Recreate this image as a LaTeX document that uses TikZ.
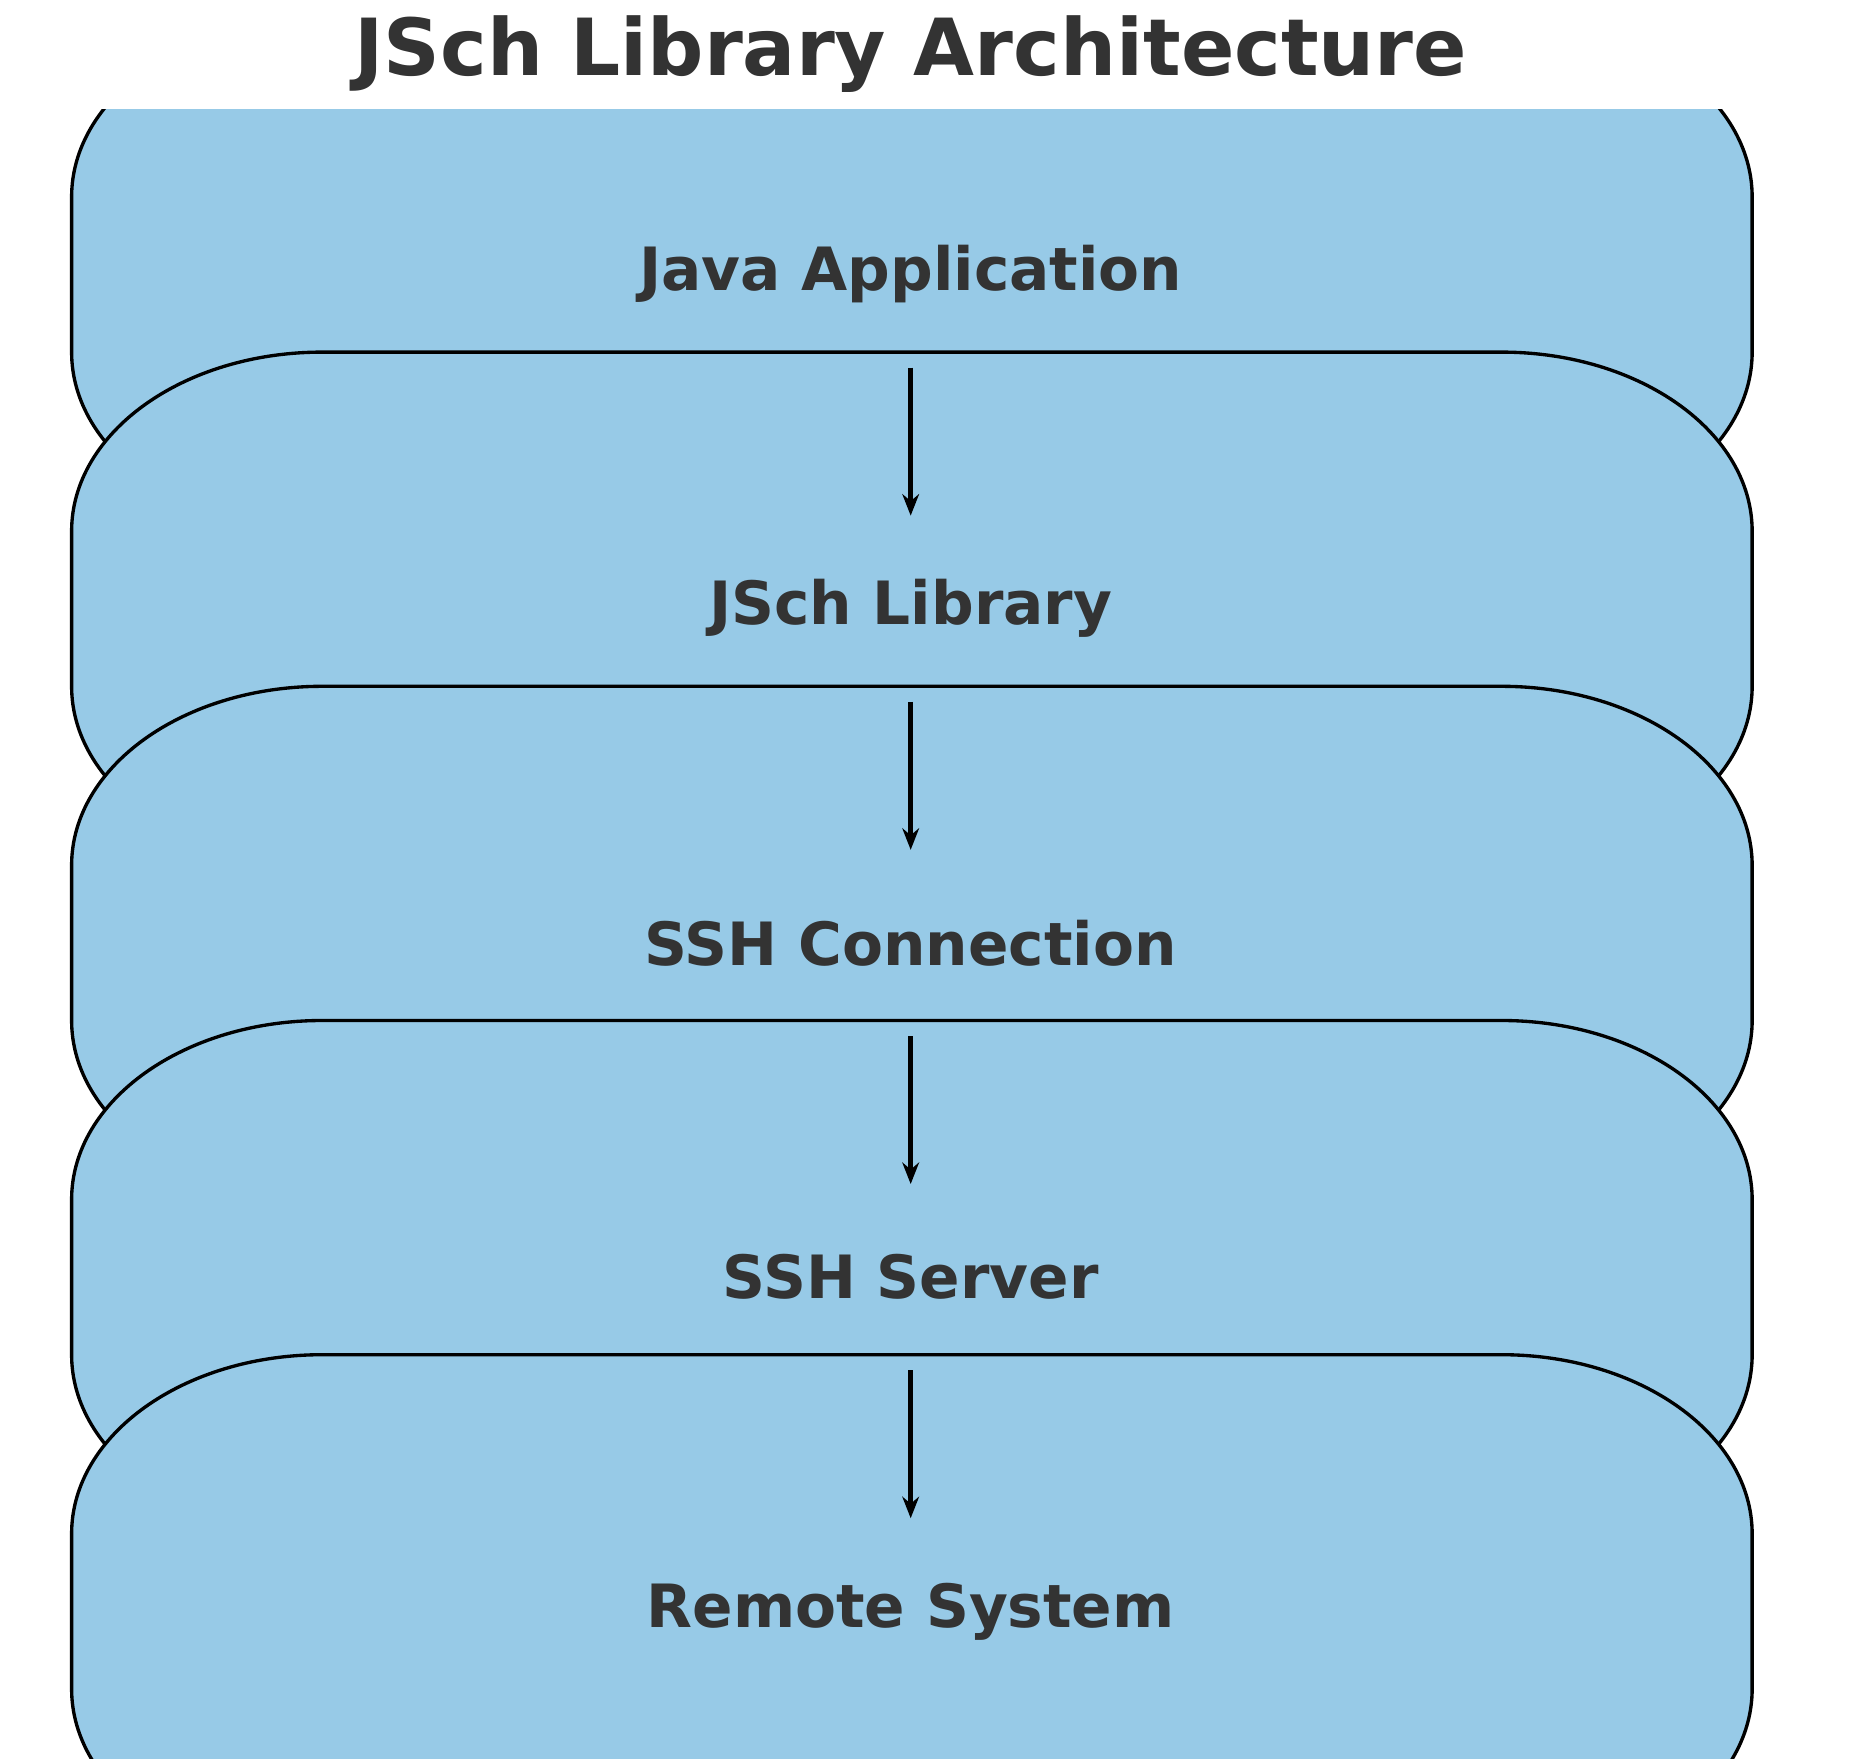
\documentclass[tikz,border=0pt]{standalone}
\usepackage{fontspec}
\setmainfont{DejaVu Sans}
\usepackage{xcolor}
\usetikzlibrary{arrows.meta}
\definecolor{layerblue}{HTML}{97CAE7}
\definecolor{labelgray}{HTML}{333333}

\tikzset{
    layer/.style = {fill = layerblue, draw = black, line width = 1.4pt},
    label/.style = {text = labelgray, font = \bfseries\fontsize{25}{28}\selectfont},
    flow/.style = {draw = black, line width = 2pt, -{Stealth[length = 9pt, width = 7pt]}}
}

% one rounded layer around centre y
\newcommand{\layerbox}[3]{%
    \path[layer] (270, #1 - 215) -- (1258, #1 - 215)
        arc[start angle = -90, end angle = 0, x radius = 210, y radius = 150]
        -- (1468, #1 + 65)
        arc[start angle = 0, end angle = 90, x radius = 210, y radius = 150]
        -- (270, #1 + 215)
        arc[start angle = 90, end angle = 180, x radius = 210, y radius = 150]
        -- (60, #1 - 65)
        arc[start angle = 180, end angle = 270, x radius = 210, y radius = 150]
        -- cycle;
    \node[label] (#2) at (763, #1) {#3};
}

\begin{document}
\begin{tikzpicture}[x = 0.5pt, y = -0.5pt]
    \useasboundingbox (0, 0) rectangle (1550, 1473);

    \node[text = labelgray, font = \bfseries\fontsize{33}{36}\selectfont] (title) at (763, 45) {JSch Library Architecture};

    \begin{scope}
        \clip (0, 92) rectangle (1550, 1473);
        \layerbox{230}{java}{Java Application}
        \coordinate (a1s) at (763, 308);
        \coordinate (a1e) at (763, 432);
        \layerbox{510}{jsch}{JSch Library}
        \coordinate (a2s) at (763, 588);
        \coordinate (a2e) at (763, 712);
        \layerbox{790}{conn}{SSH Connection}
        \coordinate (a3s) at (763, 868);
        \coordinate (a3e) at (763, 992);
        \layerbox{1070}{server}{SSH Server}
        \coordinate (a4s) at (763, 1148);
        \coordinate (a4e) at (763, 1272);
        \layerbox{1350}{remote}{Remote System}
    \end{scope}

    \foreach \i in {1,...,4}
        \draw[flow] (a\i s) -- (a\i e);
\end{tikzpicture}
\end{document}
